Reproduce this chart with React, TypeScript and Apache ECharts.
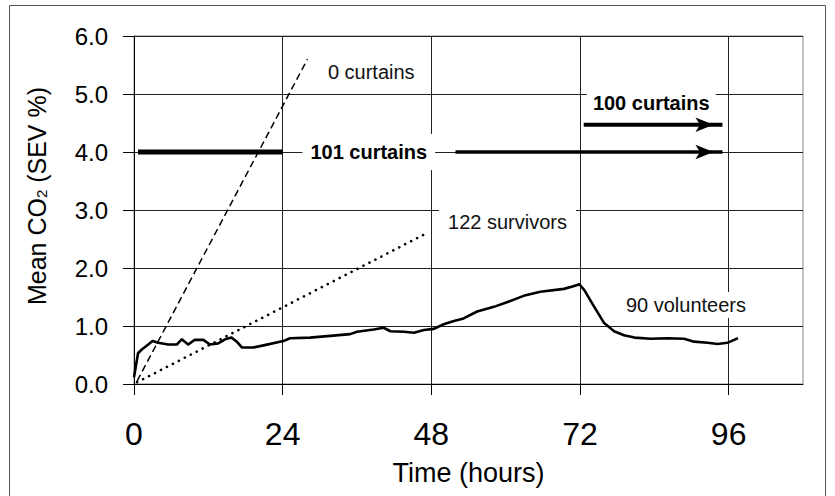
import React, { useEffect, useRef } from 'react';
import * as echarts from 'echarts';

// Volunteers curve (hours, mean CO2 %)
const hours = [0, 0.65, 1.2, 2.0, 3.0, 3.9, 5.5, 6.9, 7.7, 8.75, 9.8, 11.2, 12.25, 13.6, 14.7, 15.75, 16.6, 17.4, 19.25, 21.1, 24.1, 25.2, 28.4, 31.7, 34.9, 36, 38.7, 40.3, 41.4, 43.6, 45.2, 46.8, 48.4, 50, 51.5, 53.2, 55.4, 58.1, 60.2, 62.9, 65.6, 69.4, 70.8, 71.9, 72.7, 74.3, 75.9, 77.5, 79.1, 80.8, 83.4, 86.1, 88.8, 90.4, 92.6, 94.2, 95.8, 97.5];
const co2 = [0.115, 0.53, 0.59, 0.655, 0.74, 0.71, 0.68, 0.68, 0.77, 0.68, 0.76, 0.76, 0.68, 0.70, 0.77, 0.80, 0.73, 0.63, 0.63, 0.67, 0.74, 0.79, 0.80, 0.83, 0.86, 0.90, 0.94, 0.97, 0.91, 0.90, 0.885, 0.93, 0.95, 1.03, 1.08, 1.13, 1.25, 1.33, 1.41, 1.52, 1.59, 1.64, 1.68, 1.72, 1.62, 1.33, 1.05, 0.91, 0.84, 0.80, 0.78, 0.79, 0.78, 0.73, 0.71, 0.69, 0.71, 0.79];

// Reference lines
const zeroCurtainsX = [0.5, 28];
const zeroCurtainsY = [0.05, 5.6];
const survivorsX = [0.5, 46.7];
const survivorsY = [0.03, 2.57];
const bar101X = [0.65, 24];
const bar101Y = [4, 4];
const arrow101X = [51.9, 95];
const arrow101Y = [4, 4];
const arrow100X = [72.6, 95];
const arrow100Y = [4.47, 4.47];

// Axis ticks
const xLabelTicks = [0, 24, 48, 72, 96];

// Annotations
const annotationTexts = ['0 curtains', '101 curtains', '100 curtains', '122 survivors', '90 volunteers'];
const annotationX = [38.3, 37.9, 83.5, 60.3, 89.1];
const annotationY = [5.38, 4.0, 4.845, 2.8, 1.362];

const FONT = '"Liberation Sans", Arial, sans-serif';

const pairs = (xs: number[], ys: number[]) => xs.map((x, i) => [x, ys[i]]);

const arrowData = (xs: number[], ys: number[]) => [
  { value: [xs[0], ys[0]], symbol: 'none' },
  {
    value: [xs[1], ys[1]],
    symbol: 'arrow',
    symbolSize: [11, 18],
    symbolRotate: -90,
    symbolOffset: [-9, 0],
  },
];

const annotationStyles = [
  { fontWeight: 'normal', color: '#111', padding: [6, 6] },
  { fontWeight: 'bold', color: '#000', padding: [8, 8] },
  { fontWeight: 'bold', color: '#000', padding: [13, 6, 3, 6] },
  { fontWeight: 'normal', color: '#111', padding: [5, 9] },
  { fontWeight: 'normal', color: '#111', padding: [3, 4] },
];

export default function App() {
  const ref = useRef<HTMLDivElement>(null);

  useEffect(() => {
    if (!ref.current) return;
    const chart = echarts.init(ref.current, null, { renderer: 'svg' });

    const option: any = {
      animation: false,
      backgroundColor: '#fff',
      textStyle: { fontFamily: FONT },
      grid: {
        left: 134,
        right: 32,
        top: 36,
        bottom: 112,
        show: true,
        borderColor: '#888',
        borderWidth: 1,
      },
      graphic: [
        {
          type: 'rect',
          x: 9.5,
          y: 5.5,
          shape: { x: 0, y: 0, width: 816, height: 520 },
          style: { fill: 'none', stroke: '#555', lineWidth: 1 },
          silent: true,
        },
      ],
      xAxis: {
        type: 'value',
        min: 0,
        max: 108,
        interval: 12,
        name: 'Time (hours)',
        nameLocation: 'middle',
        nameGap: 75,
        nameTextStyle: { fontSize: 27, color: '#000', fontFamily: FONT },
        axisLine: { show: true, onZero: false, lineStyle: { color: '#000', width: 1 } },
        axisTick: {
          show: true,
          length: 11,
          customValues: xLabelTicks,
          lineStyle: { color: '#000', width: 1 },
        },
        axisLabel: {
          customValues: xLabelTicks,
          fontSize: 32,
          color: '#000',
          margin: 34,
          fontFamily: FONT,
        },
        splitLine: { show: true, lineStyle: { color: '#222', width: 1 } },
      },
      yAxis: {
        type: 'value',
        min: 0,
        max: 6,
        interval: 1,
        name: 'Mean CO{sub|2} (SEV %)',
        nameLocation: 'middle',
        nameRotate: 90,
        nameGap: 85,
        nameTextStyle: {
          fontSize: 25,
          color: '#000',
          fontFamily: FONT,
          padding: [0, 0, 0, 28],
          rich: {
            sub: { fontSize: 15, color: '#000', fontFamily: FONT, verticalAlign: 'bottom', lineHeight: 15 },
          },
        },
        axisLine: { show: true, onZero: false, lineStyle: { color: '#000', width: 1 } },
        axisTick: { show: true, length: 11, lineStyle: { color: '#000', width: 1 } },
        axisLabel: {
          fontSize: 24,
          color: '#000',
          margin: 26,
          fontFamily: FONT,
          formatter: (v: number) => v.toFixed(1),
        },
        splitLine: { show: true, lineStyle: { color: '#222', width: 1 } },
      },
      series: [
        {
          name: 'annotations',
          type: 'scatter',
          z: 2,
          symbolSize: 1,
          itemStyle: { color: 'rgba(0,0,0,0)' },
          data: annotationTexts.map((t, i) => ({
            name: t,
            value: [annotationX[i], annotationY[i]],
            label: {
              show: true,
              position: 'inside',
              formatter: t,
              fontSize: 20,
              fontFamily: FONT,
              fontWeight: annotationStyles[i].fontWeight,
              color: annotationStyles[i].color,
              opacity: 1,
              backgroundColor: '#fff',
              padding: annotationStyles[i].padding,
            },
          })),
        },
        {
          name: '0 curtains',
          type: 'line',
          z: 3,
          symbol: 'none',
          data: pairs(zeroCurtainsX, zeroCurtainsY),
          lineStyle: { color: '#000', width: 1.5, type: [7, 4] },
        },
        {
          name: '122 survivors',
          type: 'line',
          z: 3,
          symbol: 'none',
          data: pairs(survivorsX, survivorsY),
          lineStyle: { color: '#000', width: 2.6, type: [0.1, 6.6], cap: 'round' },
        },
        {
          name: '101 curtains bar',
          type: 'line',
          z: 3,
          symbol: 'none',
          data: pairs(bar101X, bar101Y),
          lineStyle: { color: '#000', width: 5 },
        },
        {
          name: '101 curtains arrow',
          type: 'line',
          z: 3,
          showSymbol: true,
          itemStyle: { color: '#000' },
          data: arrowData(arrow101X, arrow101Y),
          lineStyle: { color: '#000', width: 3.5 },
        },
        {
          name: '100 curtains arrow',
          type: 'line',
          z: 3,
          showSymbol: true,
          itemStyle: { color: '#000' },
          data: arrowData(arrow100X, arrow100Y),
          lineStyle: { color: '#000', width: 4 },
        },
        {
          name: '90 volunteers',
          type: 'line',
          z: 3,
          symbol: 'none',
          data: pairs(hours, co2),
          lineStyle: { color: '#000', width: 2.6, join: 'round' },
        },
      ],
    };

    chart.setOption(option);
    return () => chart.dispose();
  }, []);

  return (
    <div
      ref={ref}
      style={{ position: 'fixed', left: 0, top: 0, width: 835, height: 496 }}
    />
  );
}
